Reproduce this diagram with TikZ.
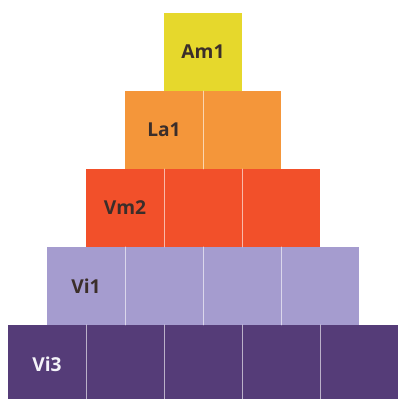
\documentclass[tikz,border=0pt]{standalone}
\usepackage{fontspec}
\setmainfont{Open Sans}
\definecolor{amone}{HTML}{E6D82C}
\definecolor{laone}{HTML}{F4963A}
\definecolor{vmtwo}{HTML}{F2502A}
\definecolor{vione}{HTML}{A59CCF}
\definecolor{vithree}{HTML}{553C78}
\definecolor{ink}{HTML}{3B2E2A}
\begin{document}
\begin{tikzpicture}[font=\fontsize{7}{8}\selectfont\bfseries, line join=round, line cap=round]
\useasboundingbox (-0.103,0.05) rectangle (5,5.167);
\tikzset{divider/.style={draw=white, opacity=0.6, line width=0.3pt},
  tag/.style={text=ink, inner sep=0pt}}
% the five layers, widest at the bottom
\foreach \r/\n/\c in {0/5/vithree,1/4/vione,2/3/vmtwo,3/2/laone,4/1/amone}
  \fill[\c] (\r/2,\r) rectangle ++(\n,1);
% thin lines between the blocks of a layer
\foreach \x in {1,2,3,4} \draw[divider] (\x,0) -- ++(0,1);
\foreach \x in {1.5,2.5,3.5} \draw[divider] (\x,1) -- ++(0,1);
\foreach \x in {2,3} \draw[divider] (\x,2) -- ++(0,1);
\draw[divider] (2.5,3) -- ++(0,1);
% labels sit in the first block of each layer
\node[tag, text=white!88!vione] (vi3) at (0.5,0.5) {Vi3};
\node[tag] (vi1) at (1,1.5) {Vi1};
\node[tag] (vm2) at (1.5,2.5) {Vm2};
\node[tag] (la1) at (2,3.5) {La1};
\node[tag] (am1) at (2.5,4.5) {Am1};
\end{tikzpicture}
\end{document}
